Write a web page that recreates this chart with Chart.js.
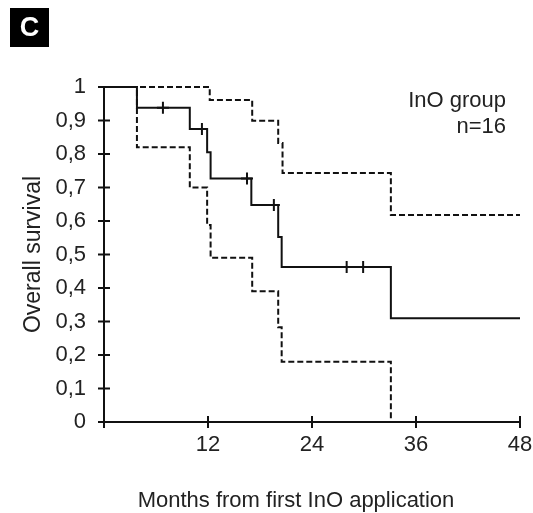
<!DOCTYPE html>
<html>
<head>
    <title>InO group overall survival</title>
    <script src="https://cdn.jsdelivr.net/npm/chart.js@4/dist/chart.umd.min.js"></script>
    <style>
        body { margin: 0; background: #fff; }
    </style>
</head>
<body>
    <canvas id="kmChart" width="533" height="513"></canvas>

    <script>
        // Kaplan-Meier estimate (solid)
        var kmMonths   = [0, 3.8, 9.9, 11.9, 12.3, 17.0, 20.1, 20.5, 33.1, 48];
        var kmSurvival = [1, 0.938, 0.875, 0.805, 0.727, 0.648, 0.552, 0.463, 0.31, 0.31];

        // censored patients (+)
        var censorMonths   = [6.8, 11.3, 16.5, 19.6, 28.0, 29.9];
        var censorSurvival = [0.938, 0.875, 0.727, 0.648, 0.463, 0.463];

        // upper 95% CI (dashed)
        var upperMonths = [0, 12.2, 17.1, 20.1, 20.6, 33.1, 48];
        var upperValues = [1, 0.961, 0.899, 0.833, 0.743, 0.618, 0.618];

        // lower 95% CI (dashed)
        var lowerMonths = [0, 3.8, 9.9, 11.9, 12.3, 17.1, 20.1, 20.5, 33.1];
        var lowerValues = [1, 0.82, 0.70, 0.588, 0.49, 0.39, 0.283, 0.18, 0];

        var xTicks = [0, 12, 24, 36, 48];
        var yTicks = [0, 0.1, 0.2, 0.3, 0.4, 0.5, 0.6, 0.7, 0.8, 0.9, 1];

        var ink = '#111';
        var fontFamily = "'Liberation Sans', Arial, sans-serif";

        function toPoints(xs, ys) {
            return xs.map(function(x, i) { return {x: x, y: ys[i]}; });
        }

        // tick marks that cross the axis line, plus panel label and annotation
        var extras = {
            id: 'extras',
            afterDraw: function(chart) {
                const ctx = chart.ctx;
                const xs = chart.scales.x, ys = chart.scales.y;
                const x0 = xs.getPixelForValue(0), y0 = ys.getPixelForValue(0);
                ctx.save();
                ctx.strokeStyle = ink;
                ctx.lineWidth = 2;
                xTicks.forEach(function(v) {
                    const px = xs.getPixelForValue(v);
                    ctx.beginPath();
                    ctx.moveTo(px, y0 - 6);
                    ctx.lineTo(px, y0 + 6);
                    ctx.stroke();
                });
                yTicks.forEach(function(v) {
                    const py = ys.getPixelForValue(v);
                    ctx.beginPath();
                    ctx.moveTo(x0 - 6, py);
                    ctx.lineTo(x0 + 6, py);
                    ctx.stroke();
                });

                // panel letter
                ctx.fillStyle = '#000';
                ctx.fillRect(10, 8, 39, 39);
                ctx.fillStyle = '#fff';
                ctx.font = 'bold 27px ' + fontFamily;
                ctx.textAlign = 'center';
                ctx.textBaseline = 'middle';
                ctx.fillText('C', 29.5, 28.5);

                // group annotation
                ctx.fillStyle = '#222';
                ctx.font = '22px ' + fontFamily;
                ctx.textAlign = 'right';
                ctx.fillText('InO group', 506, 101);
                ctx.fillText('n=16', 506, 127);

                // x axis title
                ctx.textAlign = 'center';
                ctx.fillText('Months from first InO application', 296, 501);
                ctx.restore();
            }
        };

        new Chart('kmChart', {
            type: 'line',
            data: {
                datasets: [{
                    data: toPoints(kmMonths, kmSurvival),
                    borderColor: ink,
                    borderWidth: 2,
                    stepped: 'before',
                    pointRadius: 0,
                    clip: false
                }, {
                    data: toPoints(upperMonths, upperValues),
                    borderColor: ink,
                    borderWidth: 2,
                    borderDash: [6, 3],
                    stepped: 'before',
                    pointRadius: 0,
                    clip: false
                }, {
                    data: toPoints(lowerMonths, lowerValues),
                    borderColor: ink,
                    borderWidth: 2,
                    borderDash: [6, 3],
                    stepped: 'before',
                    pointRadius: 0,
                    clip: false
                }, {
                    data: toPoints(censorMonths, censorSurvival),
                    showLine: false,
                    pointStyle: 'cross',
                    pointRadius: 6,
                    borderColor: ink,
                    borderWidth: 2
                }]
            },
            options: {
                responsive: false,
                animation: false,
                layout: {padding: {left: 10, top: 87, right: 13, bottom: 0}},
                plugins: {legend: {display: false}, tooltip: {enabled: false}},
                scales: {
                    x: {
                        type: 'linear',
                        min: 0,
                        max: 48,
                        afterFit: function(scale) {
                            scale.height = 91;
                            scale.paddingLeft = 0;
                            scale.paddingRight = 0;
                        },
                        afterBuildTicks: function(scale) {
                            scale.ticks = xTicks.map(function(v) { return {value: v}; });
                        },
                        grid: {display: false, drawTicks: false},
                        border: {display: true, color: ink, width: 2},
                        ticks: {
                            padding: 10,
                            color: '#222',
                            font: {family: fontFamily, size: 22},
                            maxRotation: 0,
                            callback: function(v) { return v === 0 ? '' : v; }
                        }
                    },
                    y: {
                        min: 0,
                        max: 1,
                        afterFit: function(scale) {
                            scale.width = 94;
                            scale.paddingTop = 0;
                            scale.paddingBottom = 0;
                        },
                        afterBuildTicks: function(scale) {
                            scale.ticks = yTicks.map(function(v) { return {value: v}; });
                        },
                        grid: {display: false, drawTicks: false},
                        border: {display: true, color: ink, width: 2},
                        ticks: {
                            padding: 18,
                            color: '#222',
                            font: {family: fontFamily, size: 22},
                            callback: function(v) { return String(Math.round(v * 10) / 10).replace('.', ','); }
                        },
                        title: {
                            display: true,
                            text: 'Overall survival',
                            color: '#222',
                            font: {family: fontFamily, size: 23},
                            padding: {top: 10, bottom: 0}
                        }
                    }
                }
            },
            plugins: [extras]
        });
    </script>
</body>
</html>
